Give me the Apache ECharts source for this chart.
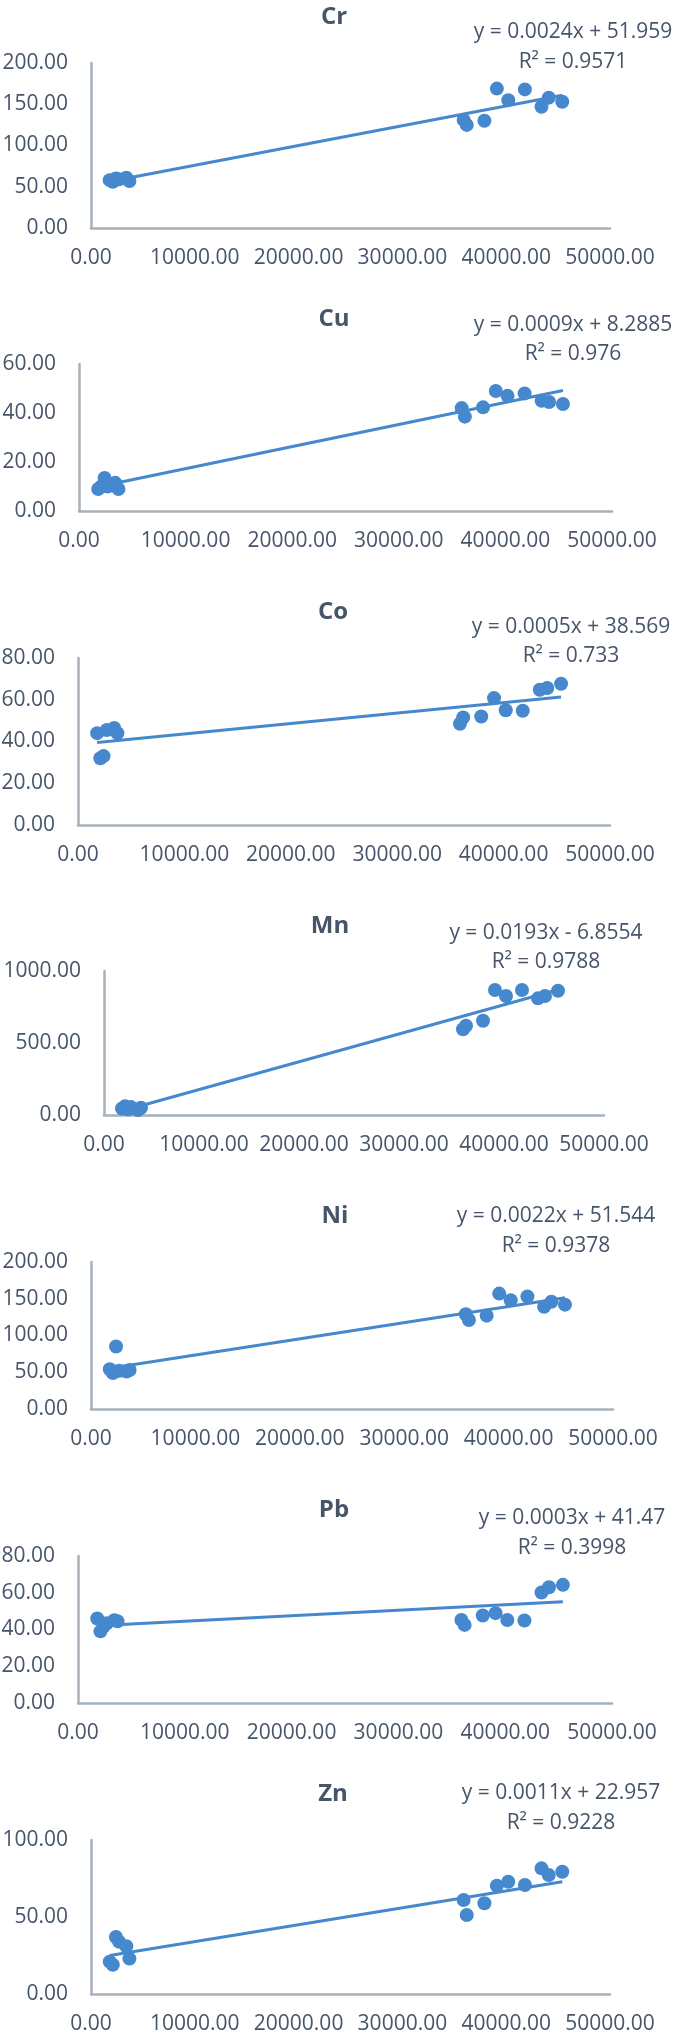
<!DOCTYPE html>
<html>
<head>
<meta charset="utf-8">
<script src="https://cdn.jsdelivr.net/npm/echarts@6/dist/echarts.min.js"></script>
<style>
html,body{margin:0;padding:0;background:#fff;}
#c{width:685px;height:2038px;}
</style>
</head>
<body>
<div id="c"></div>
<script>
// ---- data ----
const elements = ['Cr', 'Cu', 'Co', 'Mn', 'Ni', 'Pb', 'Zn'];
const xValues = [1800, 2100, 2400, 2700, 3400, 3700, 35900, 36200, 37900, 39100, 40200, 41800, 43400, 44100, 45400];
const crValues = [58, 56, 60, 59, 61, 57, 131, 125, 130, 169, 155, 168, 147, 158, 153];
const cuValues = [9, 10, 13.5, 10, 11.5, 9, 42, 38.5, 42.3, 49, 47, 48, 45, 44.5, 43.7];
const coValues = [44, 32, 33, 45.5, 46.5, 44, 48.5, 51.5, 52, 60.8, 55, 54.7, 64.8, 65.6, 67.7];
const mnValues = [45, 60, 40, 55, 35, 50, 595, 620, 655, 868, 826, 868, 810, 826, 863];
const niValues = [54, 49, 85, 52, 51, 53, 129, 121, 127, 157, 148, 153, 139, 146, 142];
const pbValues = [46, 39, 41.6, 43.4, 45, 44.5, 45.2, 42.5, 47.6, 48.9, 45.2, 44.9, 60.1, 63, 64.3];
const znValues = [21, 19, 37, 34, 31, 23, 61, 51.3, 58.9, 70.3, 72.9, 70.8, 81.6, 77.3, 79.4];
const seriesValues = [crValues, cuValues, coValues, mnValues, niValues, pbValues, znValues];
const slopes = [0.0024, 0.0009, 0.0005, 0.0193, 0.0022, 0.0003, 0.0011];
const intercepts = [51.959, 8.2885, 38.569, -6.8554, 51.544, 41.47, 22.957];
const r2Values = [0.9571, 0.976, 0.733, 0.9788, 0.9378, 0.3998, 0.9228];
const yMax = [200, 60, 80, 1000, 200, 80, 100];
const yInterval = [50, 20, 20, 500, 50, 20, 50];
const xTicks = [0, 10000, 20000, 30000, 40000, 50000];

// ---- layout (pixels) ----
const layout = [
  {l: 91,  t: 63,   r: 610, b: 228,  tx: 334, ty: 17,   ex: 573, ey: 32,   ry: 62},
  {l: 79,  t: 364,  r: 612, b: 511,  tx: 334, ty: 319,  ex: 573, ey: 325,  ry: 354},
  {l: 78,  t: 658,  r: 610, b: 825,  tx: 333, ty: 612,  ex: 571, ey: 627,  ry: 656},
  {l: 104, t: 971,  r: 604, b: 1115, tx: 330, ty: 926,  ex: 546, ey: 933,  ry: 962},
  {l: 91,  t: 1262, r: 613, b: 1409, tx: 335, ty: 1216, ex: 556, ey: 1216, ry: 1246},
  {l: 78,  t: 1556, r: 612, b: 1703, tx: 334, ty: 1510, ex: 572, ey: 1518, ry: 1548},
  {l: 91,  t: 1840, r: 610, b: 1994, tx: 333, ty: 1794, ex: 561, ey: 1793, ry: 1823}
];

const TEXT = '#46556a';
const AXIS = '#a7b1bc';
const BLUE = '#4688cd';
const FONT = '"Open Sans", "Liberation Sans", sans-serif';

const grids = [], xAxes = [], yAxes = [], series = [], graphics = [];
const xMin = Math.min(...xValues), xMax = Math.max(...xValues);

elements.forEach((name, i) => {
  const L = layout[i];
  grids.push({left: L.l, top: L.t, width: L.r - L.l, height: L.b - L.t, outerBoundsMode: 'none', containLabel: false});
  xAxes.push({
    type: 'value', gridIndex: i, min: xTicks[0], max: xTicks[xTicks.length - 1], interval: xTicks[1] - xTicks[0],
    axisLine: {show: true, onZero: false, lineStyle: {color: AXIS, width: 2.5}},
    axisTick: {show: false}, splitLine: {show: false},
    axisLabel: {color: TEXT, fontSize: 21, fontFamily: FONT, margin: 20, formatter: v => v.toFixed(2), showMinLabel: true, showMaxLabel: true}
  });
  yAxes.push({
    type: 'value', gridIndex: i, min: 0, max: yMax[i], interval: yInterval[i],
    axisLine: {show: true, onZero: false, lineStyle: {color: AXIS, width: 2.5}},
    axisTick: {show: false}, splitLine: {show: false},
    axisLabel: {color: TEXT, fontSize: 21, fontFamily: FONT, margin: 23, formatter: v => v.toFixed(2)}
  });
  series.push({
    type: 'scatter', xAxisIndex: i, yAxisIndex: i, symbol: 'circle', symbolSize: 14,
    itemStyle: {color: BLUE, opacity: 1},
    data: xValues.map((x, k) => [x, seriesValues[i][k]]), z: 2, silent: true
  });
  series.push({
    type: 'line', xAxisIndex: i, yAxisIndex: i, showSymbol: false, symbol: 'none',
    lineStyle: {color: BLUE, width: 3},
    data: [[xMin, slopes[i] * xMin + intercepts[i]], [xMax, slopes[i] * xMax + intercepts[i]]], z: 3, silent: true
  });
  graphics.push({type: 'text', x: L.tx, y: L.ty, style: {text: name, fill: TEXT, font: 'bold 24px ' + FONT, textAlign: 'center', textVerticalAlign: 'middle'}});
  const b = intercepts[i];
  const eq = 'y = ' + slopes[i] + 'x ' + (b < 0 ? '-' : '+') + ' ' + Math.abs(b);
  graphics.push({type: 'text', x: L.ex, y: L.ey, style: {text: eq, fill: TEXT, font: '21px ' + FONT, textAlign: 'center', textVerticalAlign: 'middle'}});
  graphics.push({type: 'text', x: L.ex, y: L.ry, style: {text: 'R² = ' + r2Values[i], fill: TEXT, font: '21px ' + FONT, textAlign: 'center', textVerticalAlign: 'middle'}});
});

const chart = echarts.init(document.getElementById('c'), null, {renderer: 'canvas'});
chart.setOption({
  animation: false,
  backgroundColor: '#ffffff',
  grid: grids, xAxis: xAxes, yAxis: yAxes, series: series, graphic: graphics
});
</script>
</body>
</html>
